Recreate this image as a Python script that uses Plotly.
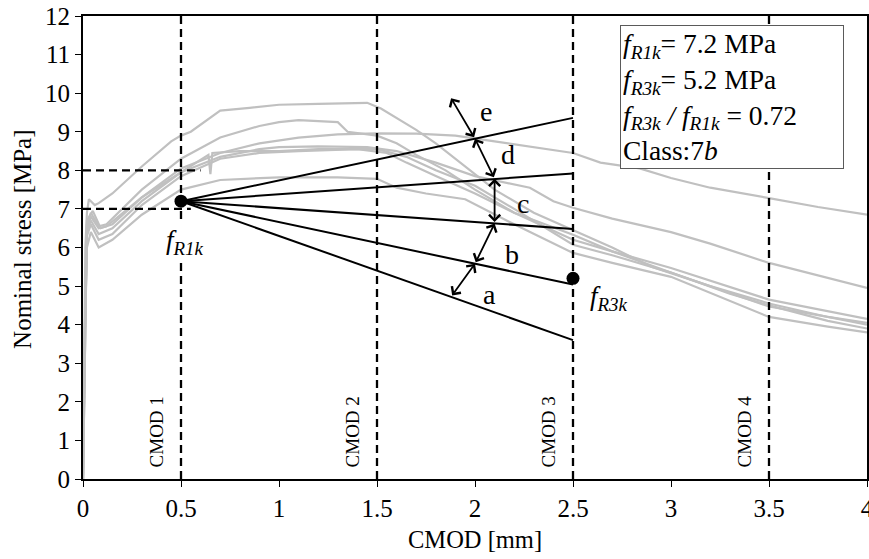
import plotly.graph_objects as go

# ---------------- data ----------------
c1_x = [0, 0.005, 0.012, 0.02, 0.03, 0.06, 0.08, 0.15, 0.3, 0.45, 0.5, 0.55, 0.7, 0.85, 1.0, 1.2, 1.45, 1.52, 1.6, 1.7, 1.8, 1.95, 2.1, 2.3, 2.5, 2.7, 2.9, 3.2, 3.5, 3.8, 4.0]
c1_y = [0, 3.0, 6.0, 6.9, 7.25, 7.1, 7.15, 7.4, 8.1, 8.75, 8.9, 9.0, 9.55, 9.62, 9.7, 9.72, 9.75, 9.6, 9.35, 9.05, 8.7, 8.1, 7.5, 6.9, 6.45, 6.0, 5.5, 5.0, 4.55, 4.2, 4.0]

c2_x = [0, 0.01, 0.02, 0.04, 0.08, 0.12, 0.3, 0.5, 0.7, 0.9, 1.0, 1.1, 1.3, 1.35, 1.5, 1.6, 1.7, 1.85, 2.0, 2.2, 2.5, 2.7, 3.0, 3.3, 3.5, 3.8, 4.0]
c2_y = [0, 4.0, 6.6, 6.9, 6.55, 6.6, 7.5, 8.3, 8.85, 9.15, 9.25, 9.3, 9.25, 9.0, 8.9, 8.7, 8.4, 8.0, 7.5, 6.9, 6.33, 5.9, 5.35, 4.8, 4.5, 4.1, 3.9]

c3_x = [0, 0.01, 0.02, 0.04, 0.08, 0.12, 0.3, 0.5, 0.7, 0.9, 1.1, 1.3, 1.5, 1.7, 1.9, 2.1, 2.3, 2.5, 2.64, 2.84, 3.0, 3.2, 3.5, 3.75, 4.0]
c3_y = [0, 4.0, 6.5, 6.8, 6.5, 6.55, 7.3, 8.05, 8.45, 8.7, 8.85, 8.93, 8.96, 8.95, 8.9, 8.75, 8.6, 8.45, 8.2, 8.05, 7.8, 7.55, 7.28, 7.05, 6.85]

c4_x = [0, 0.01, 0.02, 0.04, 0.08, 0.15, 0.3, 0.5, 0.7, 0.9, 1.0, 1.2, 1.45, 1.6, 1.8, 2.0, 2.28, 2.4, 2.5, 2.7, 3.0, 3.2, 3.5, 3.8, 4.0]
c4_y = [0, 4.0, 6.4, 6.7, 6.35, 6.5, 7.2, 7.95, 8.35, 8.55, 8.6, 8.62, 8.6, 8.5, 8.2, 7.85, 7.55, 7.2, 7.03, 6.75, 6.4, 6.1, 5.6, 5.2, 4.95]

c5_x = [0, 0.01, 0.02, 0.04, 0.08, 0.15, 0.3, 0.5, 0.7, 0.9, 1.1, 1.4, 1.55, 1.65, 1.8, 2.0, 2.2, 2.5, 2.7, 3.0, 3.5, 3.8, 4.0]
c5_y = [0, 4.0, 6.3, 6.6, 6.2, 6.35, 7.1, 7.85, 8.3, 8.45, 8.5, 8.55, 8.45, 8.2, 7.85, 7.4, 6.9, 6.2, 5.9, 5.47, 4.65, 4.35, 4.15]

c6_x = [0, 0.01, 0.02, 0.05, 0.09, 0.15, 0.3, 0.5, 0.64, 0.65, 0.66, 0.8, 1.0, 1.2, 1.5, 1.65, 1.8, 2.0, 2.2, 2.5, 2.7, 3.0, 3.5, 3.8, 4.0]
c6_y = [0, 4.0, 6.7, 6.95, 6.5, 6.6, 7.3, 7.95, 8.4, 7.9, 8.45, 8.5, 8.5, 8.55, 8.55, 8.35, 8.0, 7.6, 7.0, 6.07, 5.8, 5.35, 4.47, 4.2, 4.05]

c7_x = [0, 0.01, 0.02, 0.04, 0.08, 0.15, 0.3, 0.5, 0.7, 0.9, 1.0, 1.3, 1.5, 1.6, 1.75, 1.95, 2.2, 2.5, 2.7, 3.0, 3.5, 3.8, 4.0]
c7_y = [0, 4.0, 6.0, 6.4, 6.0, 6.2, 6.85, 7.5, 7.75, 7.8, 7.82, 7.82, 7.78, 7.55, 7.4, 7.25, 6.6, 5.86, 5.6, 5.24, 4.2, 3.95, 3.8]

curves = [(c1_x, c1_y), (c2_x, c2_y), (c3_x, c3_y), (c4_x, c4_y), (c5_x, c5_y), (c6_x, c6_y), (c7_x, c7_y)]

cmod_x = [0.5, 1.5, 2.5, 3.5]
cmod_labels = ["CMOD 1", "CMOD 2", "CMOD 3", "CMOD 4"]

fr1k = 7.2
fr3k = 5.2
ratios = [0.5, 0.7, 0.9, 1.1, 1.3]       # a..e
class_letters = ["a", "b", "c", "d", "e"]
letter_x = [2.074, 2.19, 2.247, 2.166, 2.057]
letter_y = [4.77, 5.81, 7.15, 8.40, 9.52]

# double arrows: (x_start, y_start, x_end, y_end)
arrow_x0 = [1.878, 2.0, 2.1, 2.1, 2.0]
arrow_y0 = [4.72, 5.58, 6.62, 7.78, 8.82]
arrow_x1 = [2.0, 2.1, 2.1, 2.0, 1.878]
arrow_y1 = [5.58, 6.62, 7.78, 8.82, 9.87]

h_dash_y = [8, 7]
h_dash_xend = [0.6, 0.55]

x_ticks = [0, 0.5, 1, 1.5, 2, 2.5, 3, 3.5, 4]
x_ticktext = ["0", "0.5", "1", "1.5", "2", "2.5", "3", "3.5", "4"]
y_ticks = list(range(0, 13))

FONT = "Liberation Serif, Times New Roman, serif"
GRAY = "rgb(192,192,192)"
DASH = "8px,5px"

fig = go.Figure()

for cx, cy in curves:
    fig.add_trace(go.Scatter(x=cx, y=cy, mode="lines",
                             line=dict(color=GRAY, width=2.2), hoverinfo="skip"))

# vertical dashed CMOD lines
for xv in cmod_x:
    fig.add_trace(go.Scatter(x=[xv, xv], y=[0, 12], mode="lines",
                             line=dict(color="black", width=2.3, dash=DASH)))

# horizontal dashed lines
for yv, xe in zip(h_dash_y, h_dash_xend):
    fig.add_trace(go.Scatter(x=[0, xe], y=[yv, yv], mode="lines",
                             line=dict(color="black", width=2.3, dash=DASH)))

# class lines
for r in ratios:
    fig.add_trace(go.Scatter(x=[0.5, 2.5], y=[fr1k, fr1k * r], mode="lines",
                             line=dict(color="black", width=2)))

# points fR1k, fR3k
fig.add_trace(go.Scatter(x=[0.5, 2.5], y=[fr1k, fr3k], mode="markers",
                         marker=dict(color="black", size=13)))

annotations = []
for xv, lab in zip(cmod_x, cmod_labels):
    annotations.append(dict(x=xv - 0.125, y=1.22, xref="x", yref="y", text=lab,
                            textangle=-90, showarrow=False,
                            font=dict(family=FONT, size=19, color="black")))

for lx, ly, lab in zip(letter_x, letter_y, class_letters):
    annotations.append(dict(x=lx, y=ly, xref="x", yref="y", text=lab, showarrow=False,
                            font=dict(family=FONT, size=28, color="black")))

for x0, y0, x1, y1 in zip(arrow_x0, arrow_y0, arrow_x1, arrow_y1):
    annotations.append(dict(x=x1, y=y1, ax=x0, ay=y0, xref="x", yref="y",
                            axref="x", ayref="y", text="", showarrow=True,
                            arrowside="end+start", arrowhead=4, startarrowhead=4,
                            arrowsize=1.2, startarrowsize=1.2, arrowwidth=1.8,
                            arrowcolor="black", standoff=0, startstandoff=0))

annotations.append(dict(x=0.518, y=6.13, xref="x", yref="y",
                        text="<i>f<sub>R1k</sub></i>", showarrow=False, bgcolor="white",
                        font=dict(family=FONT, size=27, color="black")))
annotations.append(dict(x=2.686, y=4.68, xref="x", yref="y",
                        text="<i>f<sub>R3k</sub></i>", showarrow=False,
                        font=dict(family=FONT, size=27, color="black")))

box_text = ("<i>f<sub>R1k</sub></i>= 7.2 MPa<br>"
            "<i>f<sub>R3k</sub></i>= 5.2 MPa<br>"
            "<i>f<sub>R3k</sub> / f<sub>R1k</sub></i> = 0.72<br>"
            "Class:7<i>b</i>")
annotations.append(dict(x=2.741, y=11.77, xref="x", yref="y", xanchor="left", yanchor="top",
                        text=box_text, showarrow=False, align="left",
                        bgcolor="white", bordercolor="rgb(90,90,90)", borderwidth=1,
                        borderpad=2, width=218,
                        font=dict(family=FONT, size=27.5, color="black")))

# axis titles
annotations.append(dict(x=0.5, y=-0.131, xref="paper", yref="paper", text="CMOD [mm]",
                        xanchor="center", yanchor="middle",
                        showarrow=False, font=dict(family=FONT, size=24.5, color="black")))
annotations.append(dict(x=-0.0765, y=0.5165, xref="paper", yref="paper",
                        text="Nominal stress [MPa]", textangle=-90, showarrow=False,
                        xanchor="center", yanchor="middle",
                        font=dict(family=FONT, size=25, color="black")))

fig.update_layout(
    width=869, height=559,
    margin=dict(l=83, r=2, t=16, b=80),
    paper_bgcolor="white", plot_bgcolor="white",
    showlegend=False,
    font=dict(family=FONT, size=24, color="black"),
    annotations=annotations,
    xaxis=dict(range=[0, 4], tickvals=x_ticks, ticktext=x_ticktext, automargin=False,
               ticklabeloverflow="allow",
               showgrid=False, zeroline=False, showline=True, mirror=True,
               linecolor="black", linewidth=1.8, ticks="outside", ticklen=6,
               tickcolor="black", tickwidth=1.2,
               tickfont=dict(family=FONT, size=25, color="black")),
    yaxis=dict(range=[0, 12], tickvals=y_ticks, automargin=False,
               ticklabeloverflow="allow",
               showgrid=False, zeroline=False, showline=True, mirror=True,
               linecolor="black", linewidth=1.8, ticks="outside", ticklen=6,
               tickcolor="black", tickwidth=1.2,
               tickfont=dict(family=FONT, size=25, color="black")),
)

fig.write_html("out.html", config={"displayModeBar": False},
               post_script="document.body.style.margin='0';document.body.style.overflow='hidden';")
